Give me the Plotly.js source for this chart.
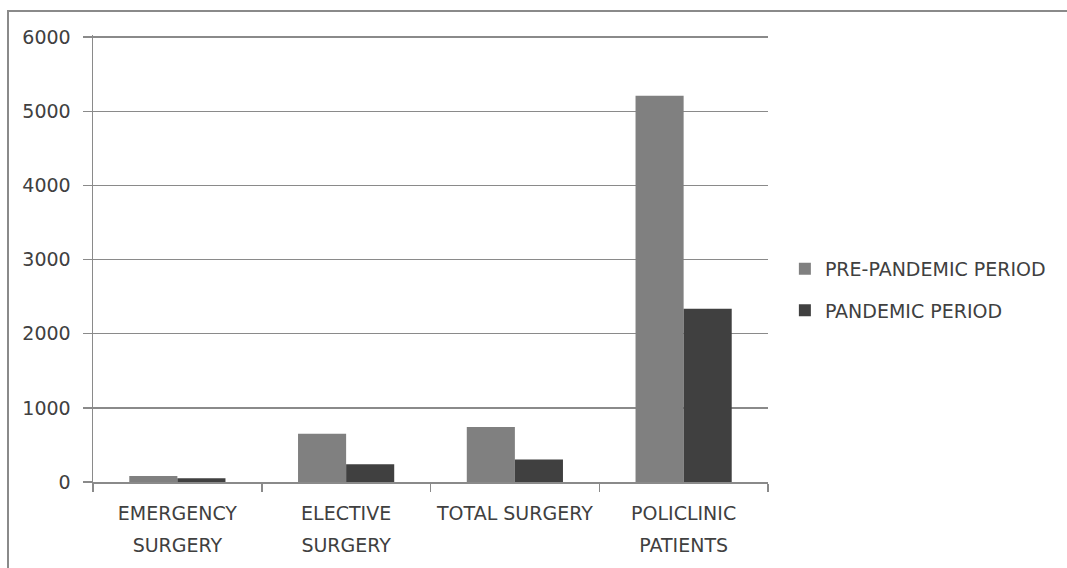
<!DOCTYPE html>
<html>
<head>
<meta charset="utf-8">
<script src="https://cdn.plot.ly/plotly-3.0.1.min.js"></script>
<style>
  html, body { margin: 0; padding: 0; background: #fff; }
  #wrap { position: relative; width: 1067px; height: 568px; overflow: hidden; }
  #chart { position: absolute; left: 0; top: 0; width: 1067px; height: 568px; }
  #frame { position: absolute; left: 7px; top: 10px; width: 1100px; height: 600px;
           border-left: 2px solid #8a8a8a; border-top: 2px solid #8a8a8a; pointer-events: none; }
</style>
</head>
<body>
<div id="wrap">
  <div id="chart"></div>
  <div id="frame"></div>
</div>
<script>
const categories = ["EMERGENCY<br>SURGERY", "ELECTIVE<br>SURGERY", "TOTAL SURGERY", "POLICLINIC<br>PATIENTS"];
const prePandemic = [81, 652, 741, 5212];
const pandemic = [50, 239, 302, 2337];
const seriesNames = ["PRE-PANDEMIC PERIOD", "PANDEMIC PERIOD"];
const yTicks = [0, 1000, 2000, 3000, 4000, 5000, 6000];

const font = { family: "DejaVu Sans", size: 19, color: "#404040" };
const xTickText = categories.map(c =>
  c.split("<br>").map(s => '<span style="font-size:19px">' + s + '</span>').join("<br>"));

const traces = [
  { type: "bar", name: seriesNames[0], x: categories, y: prePandemic,
    marker: { color: "#808080" }, legendgroup: "a", hoverinfo: "skip" },
  { type: "bar", name: seriesNames[1], x: categories, y: pandemic,
    marker: { color: "#404040" }, legendgroup: "b", hoverinfo: "skip" }
];

const layout = {
  width: 1067, height: 568,
  margin: { l: 93, r: 299, t: 35, b: 86, autoexpand: false },
  paper_bgcolor: "#ffffff", plot_bgcolor: "#ffffff",
  font: font,
  barmode: "group", bargap: 0.43, bargroupgap: 0,
  showlegend: true,
  legend: { x: 1.025, xanchor: "left", y: 0.43, yanchor: "middle",
            traceorder: "grouped", tracegroupgap: 14, font: font,
            bgcolor: "rgba(0,0,0,0)" },
  xaxis: {
    type: "category", showline: true, linecolor: "#8a8a8a", linewidth: 1.5,
    tickmode: "array", tickvals: categories, ticktext: xTickText,
    ticks: "outside", tickson: "boundaries", ticklen: 8, tickcolor: "#8a8a8a", tickwidth: 1.5,
    showgrid: false, zeroline: false,
    tickfont: { family: "DejaVu Sans", size: 24, color: "#404040" },
    ticklabelstandoff: 8, fixedrange: true
  },
  yaxis: {
    range: [0, 6030], tickvals: yTicks, ticktext: yTicks.map(String),
    showline: true, linecolor: "#8a8a8a", linewidth: 1.5,
    ticks: "outside", ticklen: 9, tickcolor: "#8a8a8a", tickwidth: 1.5,
    showgrid: true, gridcolor: "#8a8a8a", gridwidth: 1.5,
    zeroline: false, tickfont: font, ticklabelstandoff: 8, fixedrange: true
  }
};

Plotly.newPlot("chart", traces, layout, { displayModeBar: false, staticPlot: true });
</script>
</body>
</html>
